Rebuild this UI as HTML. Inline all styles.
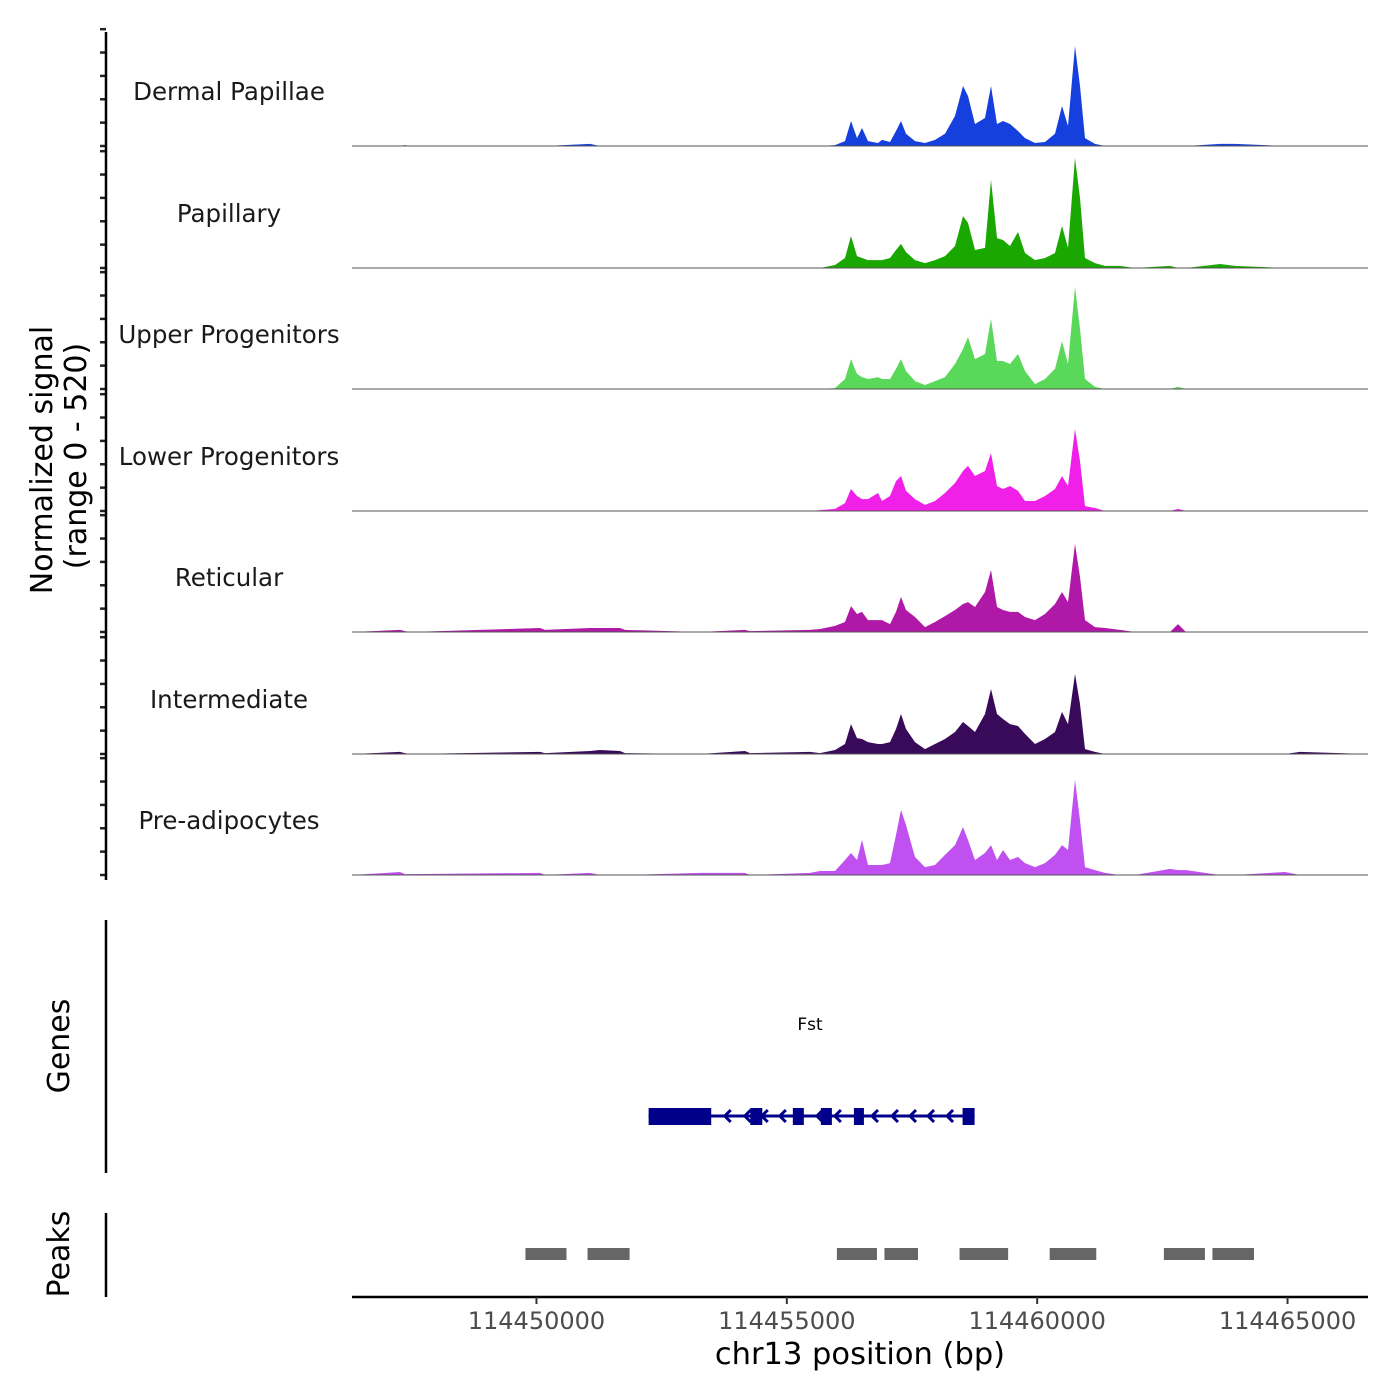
<!DOCTYPE html>
<html><head><meta charset="utf-8"><style>
body{margin:0;background:#fff}
svg{display:block;font-family:"DejaVu Sans","Liberation Sans",sans-serif}
</style></head><body>
<svg id="chart" width="1400" height="1400" viewBox="0 0 1400 1400">
<g id="tracks"></g>
<g id="genes"></g>
<g id="peaks"></g>
<g id="axes"></g>
</svg>
<script>
const trackNames = ["Dermal Papillae","Papillary","Upper Progenitors","Lower Progenitors","Reticular","Intermediate","Pre-adipocytes"];
const trackColors = ["#1540dd","#1aa800","#5ad85a","#f020e8","#b018a8","#3a0a5a","#c050f0"];
const knotPx = [352,400,405,410,540,545,590,600,620,625,700,745,750,810,820,835,845,851,857,862,868,878,882,890,896,901,906,915,925,935,945,955,963,968,975,985,991,997,1003,1010,1018,1025,1035,1045,1055,1062,1068,1075,1080,1085,1095,1105,1120,1135,1170,1178,1186,1220,1235,1285,1300,1368];
const sigDP  = [0,0,4,0,0,0,9,0,0,0,0,0,0,0,0,4,21,107,34,77,21,13,26,17,64,107,52,21,13,26,52,129,257,214,94,120,257,94,107,94,64,34,13,17,52,171,86,428,257,34,9,0,0,0,0,0,0,9,9,0,0,0];
const sigPap = [0,0,0,0,0,0,0,0,0,0,0,0,0,0,0,13,43,137,51,43,34,34,34,43,77,103,68,34,21,34,51,94,222,193,77,86,377,128,120,94,154,64,34,43,64,180,86,471,300,43,21,9,9,0,9,0,0,17,9,0,0,0];
const sigUP  = [0,0,0,0,0,0,0,0,0,0,0,0,0,0,0,4,43,128,64,51,43,51,43,43,86,128,77,34,17,34,51,107,171,222,128,150,300,120,120,107,150,77,21,43,86,205,107,437,257,43,9,0,0,0,0,9,0,0,0,0,0,0];
const sigLP  = [0,0,0,0,0,0,0,0,0,0,0,0,0,0,4,9,34,94,64,51,51,77,43,64,128,150,86,51,26,43,77,120,171,193,150,171,248,107,94,107,86,43,43,64,94,150,107,351,214,21,13,0,0,0,0,9,0,0,0,0,0,0];
const sigRet = [0,9,4,0,17,9,17,17,17,9,0,9,4,9,13,26,43,111,77,86,51,51,51,34,86,150,94,64,21,43,68,94,120,128,107,171,265,107,94,86,86,64,51,77,120,171,128,377,235,51,21,17,9,0,0,34,0,0,0,0,0,0];
const sigInt = [0,9,4,0,9,4,13,17,13,4,0,13,4,9,4,17,43,128,68,64,51,43,43,51,107,171,107,51,21,43,64,94,137,120,94,171,278,171,150,128,120,86,43,64,94,180,128,343,214,21,9,0,0,0,0,0,0,0,0,0,9,0];
const sigPre = [0,13,4,4,9,0,9,0,0,0,9,9,0,9,17,17,64,94,64,150,43,43,43,51,171,278,214,77,34,43,86,128,205,150,64,94,128,64,107,64,77,51,34,51,86,128,107,407,235,34,21,9,0,0,26,21,21,0,0,13,0,0];
const trackSignals = [sigDP,sigPap,sigUP,sigLP,sigRet,sigInt,sigPre];
const geneName = "Fst";
const exonStarts = [114452240,114454270,114455120,114455680,114456340,114458510];
const exonEnds   = [114453490,114454510,114455340,114455900,114456540,114458750];
const geneStart = 114452240, geneEnd = 114458750;
const intronArrows = [114453780,114454180,114454520,114454880,114455620,114455980,114456720,114457120,114457480,114457840,114458220];
const peakStarts = [114449780,114451020,114456000,114456950,114458450,114460250,114462530,114463500];
const peakEnds   = [114450600,114451860,114456800,114457620,114459420,114461180,114463350,114464330];
const xTicks = [114450000,114455000,114460000,114465000];
const yTickVals = [0,100,200,300,400,500];

const NS="http://www.w3.org/2000/svg";
const X0=352,X1=1368,BP0=114446316,BP1=114466607;
const xs=bp=>X0+(bp-BP0)/(BP1-BP0)*(X1-X0);
const pxToBp=p=>BP0+(p-X0)/(X1-X0)*(BP1-BP0);
const knotBp=knotPx.map(pxToBp);
const trackH=121.5, baselines=[146,268,389,511,632,754,875];
const ys=(v,i)=>baselines[i]-v/520*trackH;
function mk(tag,attrs,parent){const e=document.createElementNS(NS,tag);for(const k in attrs)e.setAttribute(k,attrs[k]);parent.appendChild(e);return e;}
const tracks=document.getElementById('tracks'),axes=document.getElementById('axes');
trackSignals.forEach((sig,i)=>{
  let d=`M${xs(knotBp[0])},${baselines[i]}`;
  sig.forEach((v,j)=>{d+=`L${xs(knotBp[j]).toFixed(1)},${ys(v,i).toFixed(1)}`;});
  d+=`L${xs(knotBp[knotBp.length-1])},${baselines[i]}Z`;
  const p=mk('path',{d:d,fill:trackColors[i]},tracks);
  
  
  const l=mk('line',{x1:X0,x2:X1,y1:baselines[i],y2:baselines[i],stroke:'#555','stroke-width':1},tracks);
  
  
  const t=mk('text',{x:229,y:baselines[i]-46,'text-anchor':'middle','font-size':24.5,fill:'#1a1a1a'},tracks);
  t.textContent=trackNames[i];
  
  
  yTickVals.forEach(v=>{
    const tk=mk('line',{x1:100,x2:106,y1:ys(v,i),y2:ys(v,i),stroke:'#222','stroke-width':2.5},axes);
    
    
  });
});
mk('line',{x1:106,x2:106,y1:32,y2:880,stroke:'#000','stroke-width':2.5},axes);
mk('line',{x1:106,x2:106,y1:920,y2:1173,stroke:'#000','stroke-width':2.5},axes);
mk('line',{x1:106,x2:106,y1:1213,y2:1297,stroke:'#000','stroke-width':2.5},axes);
mk('line',{x1:352,x2:1368,y1:1297,y2:1297,stroke:'#000','stroke-width':2.5},axes);
xTicks.forEach(b=>{
  const x=xs(b);
  mk('line',{x1:x,x2:x,y1:1297,y2:1304,stroke:'#333','stroke-width':2},axes);
  const t=mk('text',{x:x,y:1329,'text-anchor':'middle','font-size':24,fill:'#4d4d4d'},axes);
  t.textContent=b;
  
  
});
function txt(s,attrs,name){const t=mk('text',attrs,axes);t.textContent=s;return t;}
txt('chr13 position (bp)',{x:860,y:1364,'text-anchor':'middle','font-size':30.5,fill:'#000'},'x-axis-title');
txt('Normalized signal',{x:0,y:0,transform:'translate(52,460) rotate(-90)','text-anchor':'middle','font-size':30,fill:'#000'},'y-axis-title');
txt('(range 0 - 520)',{x:0,y:0,transform:'translate(86,456) rotate(-90)','text-anchor':'middle','font-size':30,fill:'#000'},'y-axis-subtitle');
txt('Genes',{x:0,y:0,transform:'translate(69,1046) rotate(-90)','text-anchor':'middle','font-size':30,fill:'#000'},'genes-axis-title');
txt('Peaks',{x:0,y:0,transform:'translate(69,1254) rotate(-90)','text-anchor':'middle','font-size':30,fill:'#000'},'peaks-axis-title');
const genes=document.getElementById('genes');
const gl=mk('line',{x1:xs(geneStart),x2:xs(geneEnd),y1:1116,y2:1116,stroke:'#00008b','stroke-width':3},genes);


intronArrows.forEach(b=>{
  const x=xs(b);
  const a=mk('polyline',{points:`${x+5},${1110} ${x-1},${1116} ${x+5},${1122}`,fill:'none',stroke:'#00008b','stroke-width':3},genes);
  
  
});
exonStarts.forEach((s,i)=>{
  const r=mk('rect',{x:xs(s),y:1108,width:xs(exonEnds[i])-xs(s),height:17,fill:'#00008b'},genes);
  
  
});
const gt=mk('text',{x:810,y:1030,'text-anchor':'middle','font-size':17,fill:'#000'},genes);
gt.textContent=geneName;


const peaks=document.getElementById('peaks');
peakStarts.forEach((s,i)=>{
  const r=mk('rect',{x:xs(s),y:1248,width:xs(peakEnds[i])-xs(s),height:12,fill:'#666'},peaks);
  
  
});
</script>
</body></html>
